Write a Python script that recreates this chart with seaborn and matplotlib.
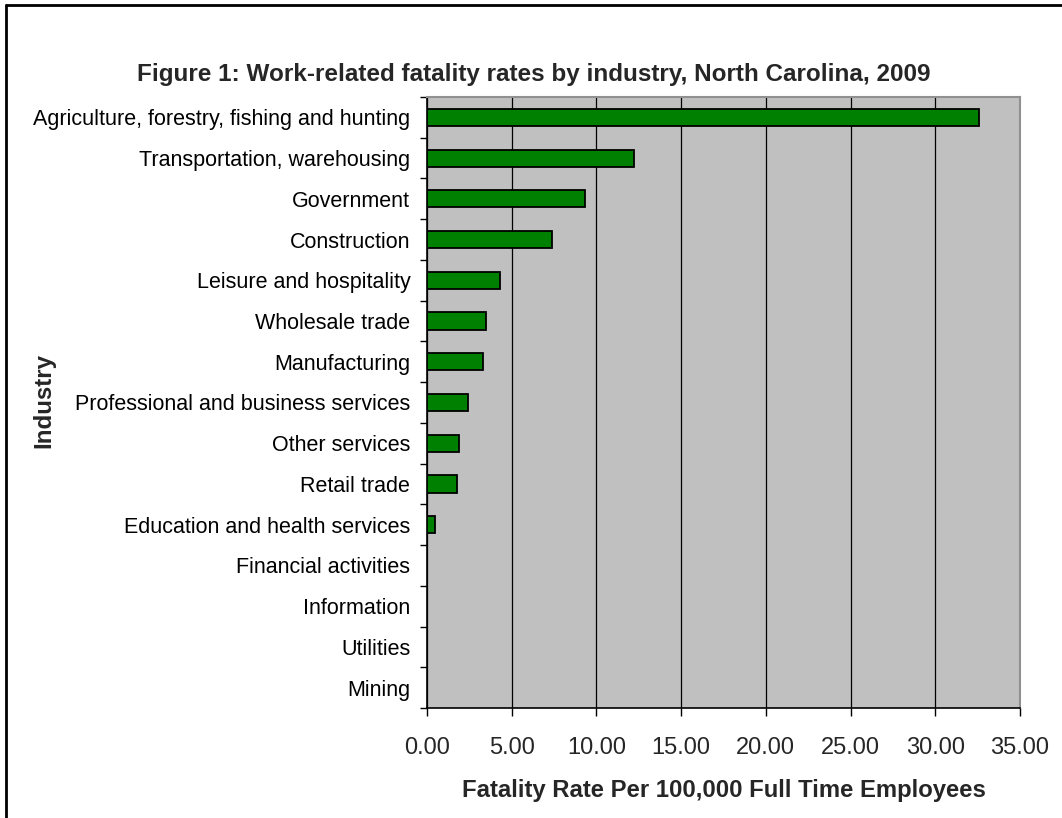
import matplotlib
matplotlib.use("Agg")
import matplotlib.pyplot as plt
import seaborn as sns
import pandas as pd
import numpy as np
from matplotlib.lines import Line2D
from matplotlib.ticker import FormatStrFormatter, FixedLocator

industries = [
    "Agriculture, forestry, fishing and hunting",
    "Transportation, warehousing",
    "Government",
    "Construction",
    "Leisure and hospitality",
    "Wholesale trade",
    "Manufacturing",
    "Professional and business services",
    "Other services",
    "Retail trade",
    "Education and health services",
    "Financial activities",
    "Information",
    "Utilities",
    "Mining",
]
rates = [32.6, 12.2, 9.3, 7.4, 4.3, 3.5, 3.3, 2.4, 1.9, 1.8, 0.5, 0.0, 0.0, 0.0, 0.0]
x_ticks = [0, 5, 10, 15, 20, 25, 30, 35]

title = "Figure 1: Work-related fatality rates by industry, North Carolina, 2009"
xlabel = "Fatality Rate Per 100,000 Full Time Employees"
ylabel = "Industry"

df = pd.DataFrame({"industry": industries, "rate": rates})

sns.set_style("white")
plt.rcParams["font.family"] = ["Liberation Sans", "DejaVu Sans"]

fig = plt.figure(figsize=(10.62, 8.18), dpi=100)
ax = fig.add_axes([427 / 1062, 1 - 708 / 818, (1020 - 427) / 1062, (708 - 97) / 818])
ax.set_facecolor("#C0C0C0")

sns.barplot(data=df, x="rate", y="industry", orient="h", color="#008000",
            edgecolor="black", linewidth=1.3, width=0.42, saturation=1, ax=ax,
            zorder=3)

ax.set_xlim(0, 35)
ax.set_ylim(len(industries) - 0.5, -0.5)
ax.xaxis.set_major_locator(FixedLocator(x_ticks))
ax.xaxis.set_major_formatter(FormatStrFormatter("%.2f"))
ax.grid(axis="x", color="black", linewidth=0.9, zorder=1)
ax.set_axisbelow(True)

ax.yaxis.set_minor_locator(FixedLocator(np.arange(-0.5, len(industries), 1)))
ax.tick_params(axis="y", which="major", length=0, pad=12, labelsize=15.5, colors="black")
ax.tick_params(axis="y", which="minor", length=5, width=1, color="black", left=True)
ax.tick_params(axis="x", which="major", length=6, width=1, color="black",
               bottom=True, pad=15, labelsize=17)

for s in ["left", "bottom"]:
    ax.spines[s].set_color("black")
    ax.spines[s].set_linewidth(1.2)
for s in ["top", "right"]:
    ax.spines[s].set_color("#909090")
    ax.spines[s].set_linewidth(1.5)

ax.set_xlabel(xlabel, fontsize=17.2, fontweight="bold", labelpad=14)
ax.set_ylabel("")
fig.text(44 / 1062, 1 - 401 / 818, ylabel, rotation=90, fontsize=17.4,
         fontweight="bold", ha="center", va="center")
fig.text(534 / 1062, 1 - 75 / 818, title, fontsize=17.5, fontweight="bold",
         ha="center", va="center")

# outer frame
fig.add_artist(Line2D([6 / 1062, 1], [1 - 5 / 818] * 2, color="black", lw=2,
                      transform=fig.transFigure))
fig.add_artist(Line2D([6 / 1062] * 2, [0, 1 - 5 / 818], color="black", lw=2,
                      transform=fig.transFigure))

fig.savefig("out.png", dpi=100)
